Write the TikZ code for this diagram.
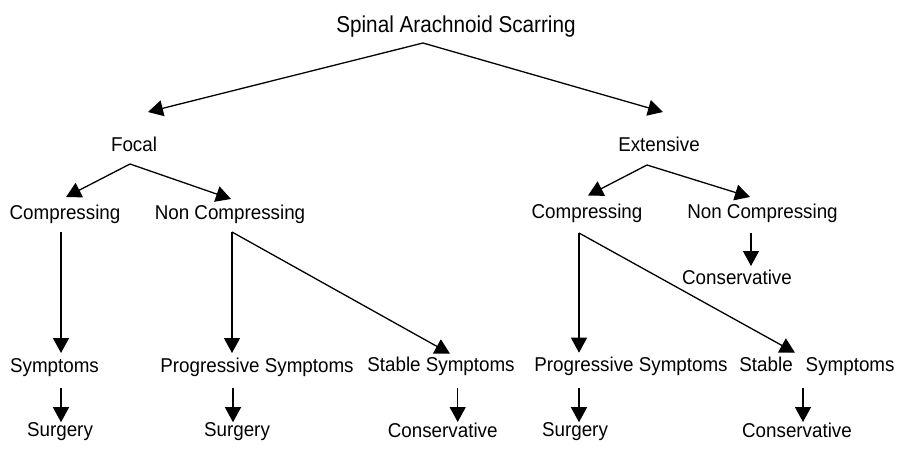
\documentclass[tikz,border=0pt]{standalone}
\usepackage{fontspec}
\setmainfont{Liberation Sans}[FakeStretch=0.94]
\newfontfamily\titlefont{Liberation Sans}[FakeStretch=0.9]
\usetikzlibrary{arrows.meta}

\begin{document}
\begin{tikzpicture}[
    x=1pt, y=-1pt,
    lbl/.style={font=\fontsize{20}{24}\selectfont, inner sep=0pt, anchor=base},
    head/.style={lbl, font=\titlefont\fontsize{23}{27}\selectfont},
    arr/.style={-{Triangle[length=15pt,width=16pt]}, line width=1.3pt}
]
    \useasboundingbox (0,0) rectangle (898,453);

    % title
    \node[head] (title) at (456,32) {Spinal Arachnoid Scarring};
    \node[lbl] (focal) at (134,151) {Focal};
    \node[lbl] (ext) at (659,151) {Extensive};
    \coordinate (title-fork) at ([xshift=-33pt,yshift=-11pt]title.base);
    \draw[arr] (title-fork) -- ([xshift=14pt,yshift=39pt]focal.base);
    \draw[arr] (title-fork) -- ([xshift=4pt,yshift=39pt]ext.base);

    % focal
    \node[lbl] (cmp1) at (65,219) {Compressing};
    \node[lbl] (nc1) at (230,219) {Non Compressing};
    \node[lbl] (sym1) at (54.5,372.5) {Symptoms};
    \node[lbl] (prog1) at (257,372) {Progressive Symptoms};
    \node[lbl] (stab1) at (441,371.7) {Stable Symptoms};
    \node[lbl] (surg1) at (60,436.7) {Surgery};
    \node[lbl] (surg2) at (237,436.7) {Surgery};
    \node[lbl] (cons1) at (442.7,437) {Conservative};
    \coordinate (focal-fork) at ([xshift=-4pt,yshift=-13pt]focal.base);
    \draw[arr] (focal-fork) -- ([xshift=1pt,yshift=22pt]cmp1.base);
    \draw[arr] (focal-fork) -- ([xshift=1pt,yshift=20pt]nc1.base);
    \draw[arr] ([xshift=-4pt,yshift=-13pt]cmp1.base) -- ([xshift=6.5pt,yshift=19.5pt]sym1.base);
    \coordinate (nc1-fork) at ([xshift=2pt,yshift=-13pt]nc1.base);
    \draw[arr] (nc1-fork) -- ([xshift=-25pt,yshift=19pt]prog1.base);
    \draw[arr] (nc1-fork) -- ([xshift=9pt,yshift=18pt]stab1.base);
    \draw[arr] ([xshift=6.5pt,yshift=-15.5pt]sym1.base) -- ([xshift=1pt,yshift=14.5pt]surg1.base);
    \draw[arr] ([xshift=-24pt,yshift=-16pt]prog1.base) -- ([xshift=-4pt,yshift=14.5pt]surg2.base);
    \draw[arr] ([xshift=16.7pt,yshift=-16pt]stab1.base) -- ([xshift=15pt,yshift=15pt]cons1.base);

    % extensive
    \node[lbl] (cmp2) at (587,218.5) {Compressing};
    \node[lbl] (nc2) at (762.5,218.5) {Non Compressing};
    \node[lbl] (cons2) at (737,284) {Conservative};
    \node[lbl] (prog2) at (631,371.7) {Progressive Symptoms};
    \node[lbl] (stab2) at (817,371.7) {Stable\hspace{13pt}Symptoms};
    \node[lbl] (surg3) at (575,436.7) {Surgery};
    \node[lbl] (cons3) at (797,437) {Conservative};
    \coordinate (ext-fork) at ([xshift=-12pt,yshift=-14pt]ext.base);
    \draw[arr] (ext-fork) -- ([xshift=1pt,yshift=23pt]cmp2.base);
    \draw[arr] (ext-fork) -- ([xshift=-12.5pt,yshift=21.5pt]nc2.base);
    \coordinate (cmp2-fork) at ([xshift=-8pt,yshift=-14.5pt]cmp2.base);
    \draw[arr] (cmp2-fork) -- ([xshift=-52pt,yshift=19pt]prog2.base);
    \draw[arr] (cmp2-fork) -- ([xshift=-22pt,yshift=19pt]stab2.base);
    \draw[arr] ([xshift=-11.5pt,yshift=-14.5pt]nc2.base) -- ([xshift=14pt,yshift=18pt]cons2.base);
    \draw[arr] ([xshift=-52pt,yshift=-16pt]prog2.base) -- ([xshift=4pt,yshift=14.5pt]surg3.base);
    \draw[arr] ([xshift=-14pt,yshift=-16pt]stab2.base) -- ([xshift=6pt,yshift=15pt]cons3.base);
\end{tikzpicture}
\end{document}
